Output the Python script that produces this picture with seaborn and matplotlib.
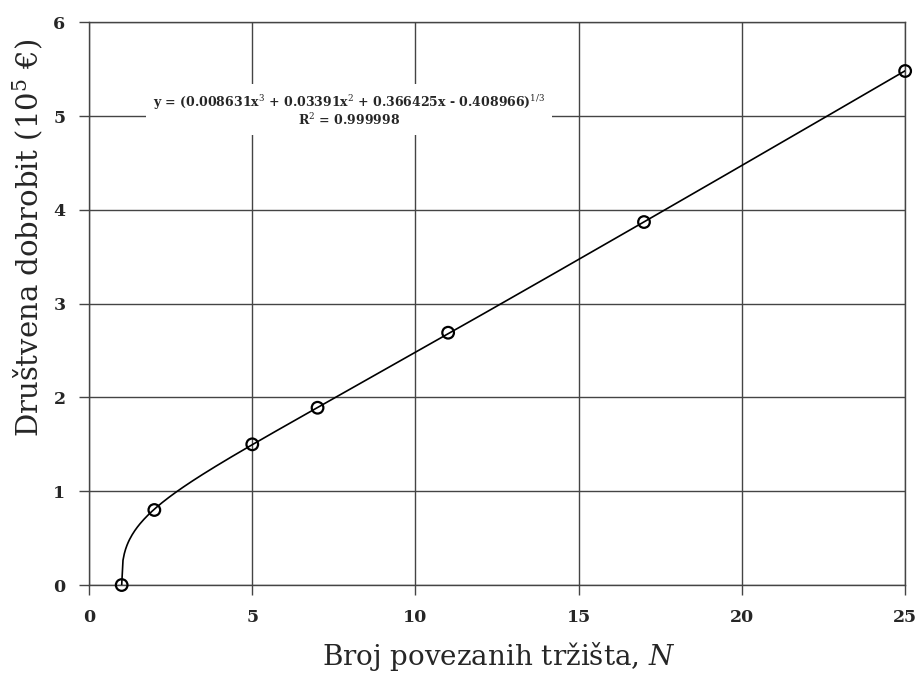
import numpy as np
import pandas as pd
import matplotlib
matplotlib.use("Agg")
import matplotlib.pyplot as plt
import seaborn as sns

# Podaci očitani s grafa
broj_trzista = [1, 2, 5, 7, 11, 17, 25]
dobrobit = [0.0, 0.80, 1.50, 1.89, 2.69, 3.87, 5.48]

# Koeficijenti prilagodbe (iz jednadžbe na grafu)
koef = [0.008631, 0.03391, 0.366425, -0.408966]
r2 = 0.999998

x_ticks = [0, 5, 10, 15, 20, 25]
y_ticks = [0, 1, 2, 3, 4, 5, 6]

sns.set_theme(style="white")
plt.rcParams["font.family"] = ["DejaVu Serif"]
plt.rcParams["mathtext.fontset"] = "dejavuserif"

fig = plt.figure(figsize=(9.18, 6.74), dpi=100)
ax = fig.add_axes([0.097, 0.132, 0.889, 0.835])

# Krivulja prilagodbe
x_fit = np.linspace(broj_trzista[0], broj_trzista[-1], 600)
y_fit = np.cbrt(np.clip(np.polyval(koef, x_fit), 0, None))
sns.lineplot(x=x_fit, y=y_fit, ax=ax, color="black", linewidth=1.2, zorder=3)

df = pd.DataFrame({"N": broj_trzista, "W": dobrobit})
sns.scatterplot(data=df, x="N", y="W", ax=ax, s=70, facecolor="none",
                edgecolor="black", linewidth=1.6, zorder=4, clip_on=False)

ax.set_xlim(0, 25)
ax.set_ylim(0, 6)
ax.set_xticks(x_ticks)
ax.set_yticks(y_ticks)
ax.grid(True, color="#444444", linewidth=1.0)
for sp in ax.spines.values():
    sp.set_color("#444444")
    sp.set_linewidth(1.0)
ax.tick_params(axis="both", direction="out", length=7, width=1.0,
               color="#444444", labelsize=12.5, pad=10, bottom=True, left=True)
for lab in ax.get_xticklabels() + ax.get_yticklabels():
    lab.set_fontweight("bold")

ax.set_xlabel("")
ax.set_ylabel("")
fig.text(499 / 918, 1 - 665 / 674, "Broj povezanih tržišta, $N$",
         fontsize=20, ha="center", va="baseline")
fig.text(28 / 918, 1 - 238 / 674, "Društvena dobrobit (10$^5$ €)",
         fontsize=21, rotation=90, ha="center", va="center")

# Jednadžba
jed = ("y = ({:.6f}x$^3$ + {:.5f}x$^2$ + {:.6f}x - {:.6f})$^{{1/3}}$\n"
       "R$^2$ = {:.6f}").format(koef[0], koef[1], koef[2], -koef[3], r2)
ax.text(7.97, 5.06, jed, ha="center", va="center", fontsize=9,
        fontweight="bold", linespacing=1.05, zorder=5,
        bbox=dict(facecolor="white", edgecolor="none", pad=5))

fig.savefig("out.png", dpi=100)
